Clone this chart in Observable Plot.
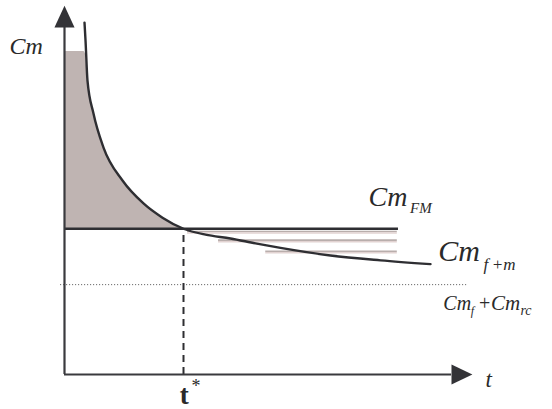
<!DOCTYPE html>
<html>
<head>
<meta charset="utf-8">
<script src="https://cdn.jsdelivr.net/npm/d3@7"></script>
<script src="https://cdn.jsdelivr.net/npm/@observablehq/plot@0.6"></script>
<style>
  html, body { margin: 0; padding: 0; background: #fff; }
  #chart svg { display: block; }
</style>
</head>
<body>
<div id="chart"></div>
<script>
// ---- Data ----
// Cm_{f+m} curve: time t vs marginal cost
const curveT  = [0.517, 0.543, 0.594, 0.749, 1.008, 1.499, 2.041, 2.532, 3.075, 3.643, 4.289, 4.935, 5.581, 6.873, 8.165, 9.457];
const curveCm = [10.14, 9.63, 8.47, 7.52, 6.54, 5.59, 4.93, 4.52, 4.20, 4.03, 3.92, 3.78, 3.65, 3.43, 3.29, 3.18];

// Cm_FM level and its extent
const cmFM = 4.2;
const cmFMEnd = 8.63;

// Cm_f + Cm_rc (dotted) level and extent
const cmFRc = 2.59;
const dottedStart = -0.10;
const dottedEnd = 10.41;

// t*
const tStar = 3.075;

// shaded region (between the curve and Cm_FM, before t*)
const shadeT   = [0, 0.50, 0.545, 0.594, 0.749, 1.008, 1.499, 2.041, 2.532, 3.075];
const shadeTop = [9.31, 9.31, 9.22, 8.47, 7.52, 6.54, 5.59, 4.93, 4.52, 4.20];

// faint hatch lines after t*
const hatchLevels = [4.10, 3.85, 3.53];
const hatchStarts = [3.18, 3.98, 5.20];
const hatchEnd = 8.60;

// axes extents (arrow base) and arrow heads
const axisMax = 10;
const yArrowT  = [-0.26, 0, 0.26];
const yArrowCm = [10, 10.63, 10];
const xArrowT  = [10, 10.54, 10];
const xArrowCm = [0.29, 0, -0.29];

// labels
const labels = [
  {t: -1.42, cm: 9.25, text: "Cm",  size: 24, style: "italic", weight: "normal"},
  {t: 7.855, cm: 4.87, text: "Cm",  size: 28, style: "italic", weight: "normal"},
  {t: 8.93,  cm: 4.66, text: "FM",  size: 15, style: "italic", weight: "normal"},
  {t: 9.66,  cm: 3.26, text: "Cm",  size: 30, style: "italic", weight: "normal"},
  {t: 10.83, cm: 3.00, text: "f\u2009+m", size: 17, style: "italic", weight: "normal"},
  {t: 9.79,  cm: 1.87, text: "Cm",  size: 20, style: "italic", weight: "normal"},
  {t: 10.50, cm: 1.72, text: "f",   size: 12, style: "italic", weight: "normal"},
  {t: 10.71, cm: 1.87, text: "+",   size: 20, style: "normal", weight: "normal"},
  {t: 11.02, cm: 1.87, text: "Cm",  size: 21, style: "italic", weight: "normal"},
  {t: 11.78, cm: 1.72, text: "rc",  size: 14, style: "italic", weight: "normal"},
  {t: 2.98,  cm: -0.86, text: "t",  size: 27, style: "normal", weight: "bold"},
  {t: 3.28,  cm: -0.50, text: "*",  size: 18, style: "normal", weight: "normal"},
  {t: 10.88, cm: -0.35, text: "t",  size: 23, style: "italic", weight: "normal"}
];

// ---- Build tables ----
const curve = curveT.map((t, i) => ({t, cm: curveCm[i]}));
const shade = shadeT.map((t, i) => ({t, top: shadeTop[i], base: cmFM}));
const hatch = hatchLevels.map((cm, i) => ({cm, x1: hatchStarts[i], x2: hatchEnd}));
const yArrow = yArrowT.map((t, i) => ({t, cm: yArrowCm[i]}));
const xArrow = xArrowT.map((t, i) => ({t, cm: xArrowCm[i]}));

const ink = "#2e2e32";
const serif = "Liberation Serif";

const textMarks = labels.map(d => Plot.text([d], {
  x: "t", y: "cm", text: "text",
  textAnchor: "start", lineAnchor: "bottom",
  fontSize: d.size, fontStyle: d.style, fontWeight: d.weight,
  fontFamily: serif, fill: "#2a2a2a"
}));

const chart = Plot.plot({
  width: 552,
  height: 409,
  margin: 0,
  style: {background: "#fff", overflow: "visible"},
  x: {domain: [0, 10], range: [64, 451], axis: null},
  y: {domain: [0, 10], range: [374, 27], axis: null},
  marks: [
    // shaded area
    Plot.areaY(shade, {x: "t", y1: "base", y2: "top", fill: "#bfb4b2", curve: "monotone-x"}),
    // faint hatch lines (two-tone)
    Plot.ruleY(hatch, {y: "cm", x1: "x1", x2: "x2", stroke: "#b9aeac", strokeWidth: 1.6, dy: -0.8}),
    Plot.ruleY(hatch, {y: "cm", x1: "x1", x2: "x2", stroke: "#e2d3d2", strokeWidth: 1.6, dy: 0.8}),
    // dotted Cm_f + Cm_rc
    Plot.ruleY([cmFRc], {x1: dottedStart, x2: dottedEnd, stroke: "#555", strokeWidth: 1, strokeDasharray: "1,2"}),
    // dashed t*
    Plot.ruleX([tStar], {y1: 0, y2: cmFM, stroke: ink, strokeWidth: 2, strokeDasharray: "7,5"}),
    // Cm_FM line
    Plot.ruleY([cmFM], {x1: 0, x2: cmFMEnd, stroke: ink, strokeWidth: 2.4}),
    // curve
    Plot.line(curve, {x: "t", y: "cm", stroke: ink, strokeWidth: 2.4, curve: "monotone-x"}),
    // axes
    Plot.ruleX([0], {y1: 0, y2: axisMax, stroke: "#3a3a3e", strokeWidth: 2.2}),
    Plot.ruleY([0], {x1: 0, x2: axisMax, stroke: "#3a3a3e", strokeWidth: 2.2}),
    // arrow heads
    Plot.line(yArrow, {x: "t", y: "cm", fill: "#333337", stroke: "none"}),
    Plot.line(xArrow, {x: "t", y: "cm", fill: "#333337", stroke: "none"}),
    ...textMarks
  ]
});

document.getElementById("chart").appendChild(chart);
</script>
</body>
</html>
